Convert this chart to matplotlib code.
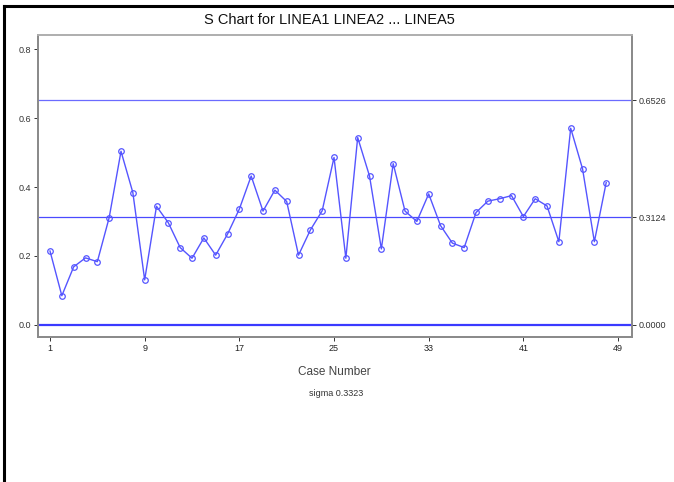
import matplotlib
matplotlib.use("Agg")
import matplotlib.pyplot as plt
from matplotlib.lines import Line2D

plt.rcParams['font.family'] = ['Liberation Sans Narrow', 'Liberation Sans', 'DejaVu Sans']

title = "S Chart for LINEA1 LINEA2 ... LINEA5"
xlabel = "Case Number"
note = "sigma 0.3323"

case_numbers = list(range(1, 49))
s_values = [0.214, 0.084, 0.168, 0.194, 0.183, 0.311, 0.504, 0.384, 0.130, 0.344,
            0.296, 0.224, 0.193, 0.252, 0.202, 0.263, 0.336, 0.432, 0.330, 0.391,
            0.358, 0.202, 0.275, 0.331, 0.486, 0.193, 0.544, 0.432, 0.220, 0.468,
            0.330, 0.300, 0.380, 0.288, 0.237, 0.224, 0.326, 0.359, 0.366, 0.375,
            0.314, 0.366, 0.345, 0.241, 0.571, 0.453, 0.241, 0.413]

ucl = 0.6526
cl = 0.3124
lcl = 0.0
limit_labels = ["0.6526", "0.3124", "0.0000"]

x_ticks = [1, 9, 17, 25, 33, 41, 49]
y_ticks = [0.0, 0.2, 0.4, 0.6, 0.8]
y_tick_labels = ["0.0", "0.2", "0.4", "0.6", "0.8"]

fig = plt.figure(figsize=(6.74, 4.82), dpi=100)
ax = fig.add_axes([38/674, 1-337/482, (632-38)/674, (337-35)/482])

line_col = "#5555ff"
ax.axhline(ucl, color="#6b6bff", lw=0.9)
ax.axhline(cl, color="#4a4aff", lw=0.9)
ax.axhline(lcl, color="#3a3aff", lw=1.6)
ax.plot(case_numbers, s_values, color=line_col, lw=1.0, marker="o",
        markersize=4, markerfacecolor="none", markeredgecolor=line_col, markeredgewidth=0.9)

ax.set_xlim(-0.014, 50.18)
ax.set_ylim(-0.036, 0.842)
ax.set_xticks(x_ticks)
ax.set_yticks(y_ticks)
ax.set_yticklabels(y_tick_labels)
ax.tick_params(axis="both", labelsize=6.5, colors="#333333", length=3, width=0.7, pad=2)
ax.tick_params(axis="x", labelcolor="#222222")

ax2 = ax.twinx()
ax2.set_ylim(ax.get_ylim())
ax2.set_yticks([ucl, cl, lcl])
ax2.set_yticklabels(limit_labels)
ax2.tick_params(axis="y", labelsize=6.5, colors="#333333", length=3, width=0.7, pad=2)

for a in (ax, ax2):
    for sp in a.spines.values():
        sp.set_color("#8a8a8a")
        sp.set_linewidth(1.3)
    a.spines["top"].set_color("#b0b0b0")

fig.text(329/674, 1-20/482, title, ha="center", va="center", fontsize=10.5,
         family=['Liberation Sans', 'DejaVu Sans'], color="#111111")
fig.text(334/674, 1-372/482, xlabel, ha="center", va="center", fontsize=8.5,
         family=['Liberation Sans', 'DejaVu Sans'], color="#444444")
fig.text(336/674, 1-393/482, note, ha="center", va="center", fontsize=6.5, color="#333333")

# outer frame
fig.add_artist(Line2D([3.5/674, 1.0], [1-6/482, 1-6/482], transform=fig.transFigure,
                      color="black", lw=2.2))
fig.add_artist(Line2D([3.5/674, 3.5/674], [0.0, 1-6/482], transform=fig.transFigure,
                      color="black", lw=2.2))

fig.savefig("out.png", dpi=100)
